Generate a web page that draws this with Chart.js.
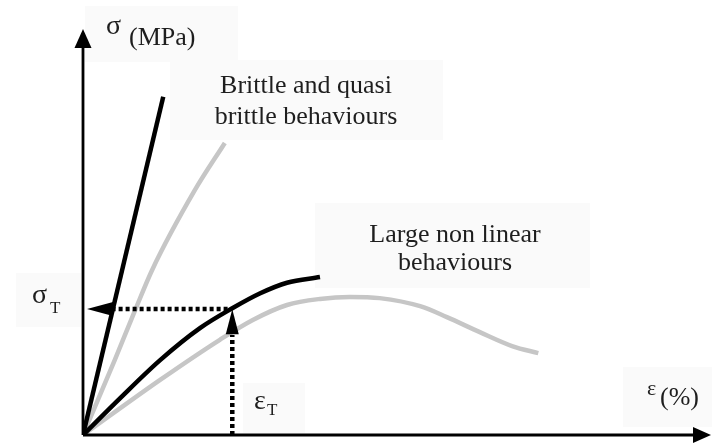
<!DOCTYPE html>
<html>
<head>
<meta charset="utf-8">
<script src="https://cdn.jsdelivr.net/npm/chart.js@4.4.1/dist/chart.umd.min.js"></script>
<style>
  html, body { margin: 0; padding: 0; background: #fff; }
  #wrap { width: 712px; height: 444px; position: relative; }
</style>
</head>
<body>
<div id="wrap"><canvas id="myChart"></canvas></div>
<script>
// schematic stress-strain curves (arbitrary units, 0..100 on both axes)
const brittleBlackX = [0, 12.9];
const brittleBlackY = [0, 83.5];

const brittleGreyX = [0, 5.1, 8.4, 11.1, 18.0, 22.8];
const brittleGreyY = [0, 18.5, 30.9, 40.7, 60.5, 72.1];

const ductileBlackX = [0, 5.9, 12.4, 18.8, 24.0, 28.5, 32.8, 38.1];
const ductileBlackY = [0, 9.0, 18.5, 26.4, 31.3, 35.0, 37.6, 39.0];

const ductileGreyX = [0, 12.4, 22.0, 27.3, 32.8, 38.1, 42.9, 47.7, 54.2, 58.5, 63.8, 69.1, 73.2];
const ductileGreyY = [0, 13.6, 23.5, 28.4, 32.1, 33.6, 34.1, 33.8, 31.8, 29.1, 25.4, 21.9, 20.2];

// threshold point
const epsT = 24.0;
const sigT = 31.1;

function pts(xs, ys) {
  return xs.map((x, i) => ({ x: x, y: ys[i] }));
}

const ctx = document.getElementById('myChart');

const SERIF = "'Liberation Serif', 'Times New Roman', serif";

const diagram = {
  id: 'diagram',
  beforeDatasetsDraw(chart) {
    const c = chart.ctx;
    c.save();
    c.fillStyle = '#fafafa';
    [[85, 6, 153, 56], [170, 60, 273, 80], [315, 203, 275, 85],
     [16, 273, 65, 54], [243, 383, 62, 50], [623, 367, 89, 60]].forEach(r => {
      c.fillRect(r[0], r[1], r[2], r[3]);
    });
    c.restore();
  },
  afterDatasetsDraw(chart) {
    const c = chart.ctx;
    const xs = chart.scales.x, ys = chart.scales.y;
    const ox = xs.getPixelForValue(0), oy = ys.getPixelForValue(0);
    c.save();
    c.fillStyle = '#000';
    c.strokeStyle = '#000';
    c.lineWidth = 2.8;
    // axes
    c.beginPath();
    c.moveTo(ox, oy); c.lineTo(ox, 40);
    c.moveTo(ox, oy); c.lineTo(700, oy);
    c.stroke();
    function tri(a, b, d) {
      c.beginPath(); c.moveTo(a[0], a[1]); c.lineTo(b[0], b[1]); c.lineTo(d[0], d[1]); c.closePath(); c.fill();
    }
    tri([ox, 29], [ox - 8.5, 48], [ox + 8.5, 48]);
    tri([711, oy], [693, oy - 8], [693, oy + 8]);
    // threshold arrows
    const hy = ys.getPixelForValue(sigT);
    const tipX = xs.getPixelForValue(0) + 4;
    tri([tipX, hy], [tipX + 26, hy - 7], [tipX + 26, hy + 7]);
    const vx = xs.getPixelForValue(epsT);
    const tipY = ys.getPixelForValue(ductileBlackY[4]) + 1;
    tri([vx, tipY], [vx - 6.5, tipY + 25], [vx + 6.5, tipY + 25]);

    // texts
    c.fillStyle = '#1e1e1e';
    c.textBaseline = 'alphabetic';
    function txt(s, x, y, size, align) {
      c.font = size + 'px ' + SERIF;
      c.textAlign = align || 'left';
      c.fillText(s, x, y);
    }
    txt('σ', 106, 34, 28);
    txt('(MPa)', 129, 45, 26);
    txt('Brittle and quasi', 306, 93, 26, 'center');
    txt('brittle behaviours', 306, 124, 26, 'center');
    txt('Large non linear', 455, 242, 26, 'center');
    txt('behaviours', 455, 270, 26, 'center');
    txt('σ', 32, 303, 28);
    txt('T', 50, 313, 17);
    txt('ε', 254, 409, 28);
    txt('T', 267, 415, 17);
    txt('ε', 647, 395, 22);
    txt('(%)', 660, 405, 26);
    c.restore();
  }
};

new Chart(ctx, {
  type: 'line',
  data: {
    datasets: [
      {
        label: 'Brittle',
        data: pts(brittleBlackX, brittleBlackY),
        borderColor: '#000',
        borderWidth: 4.5,
        pointRadius: 0
      },
      {
        label: 'Large non linear',
        data: pts(ductileBlackX, ductileBlackY),
        borderColor: '#000',
        borderWidth: 4.5,
        pointRadius: 0,
        cubicInterpolationMode: 'monotone'
      },
      {
        label: 'sigma T',
        data: [{ x: 4.6, y: sigT }, { x: epsT - 0.6, y: sigT }],
        borderColor: '#000',
        borderWidth: 4.5,
        borderDash: [4, 3],
        pointRadius: 0
      },
      {
        label: 'eps T',
        data: [{ x: epsT, y: 0 }, { x: epsT, y: 24.7 }],
        borderColor: '#000',
        borderWidth: 4.5,
        borderDash: [4, 3],
        pointRadius: 0
      },
      {
        label: 'Quasi brittle',
        data: pts(brittleGreyX, brittleGreyY),
        borderColor: '#c6c6c6',
        borderWidth: 4.5,
        pointRadius: 0,
        cubicInterpolationMode: 'monotone'
      },
      {
        label: 'Non linear softening',
        data: pts(ductileGreyX, ductileGreyY),
        borderColor: '#c6c6c6',
        borderWidth: 4.5,
        pointRadius: 0,
        cubicInterpolationMode: 'monotone'
      }
    ]
  },
  options: {
    responsive: true,
    maintainAspectRatio: false,
    animation: false,
    layout: { padding: { left: 83, right: 7, top: 30, bottom: 9 } },
    scales: {
      x: { type: 'linear', min: 0, max: 100, display: false },
      y: { type: 'linear', min: 0, max: 100, display: false }
    },
    plugins: {
      legend: { display: false },
      tooltip: { enabled: false }
    }
  },
  plugins: [diagram]
});
</script>
</body>
</html>
